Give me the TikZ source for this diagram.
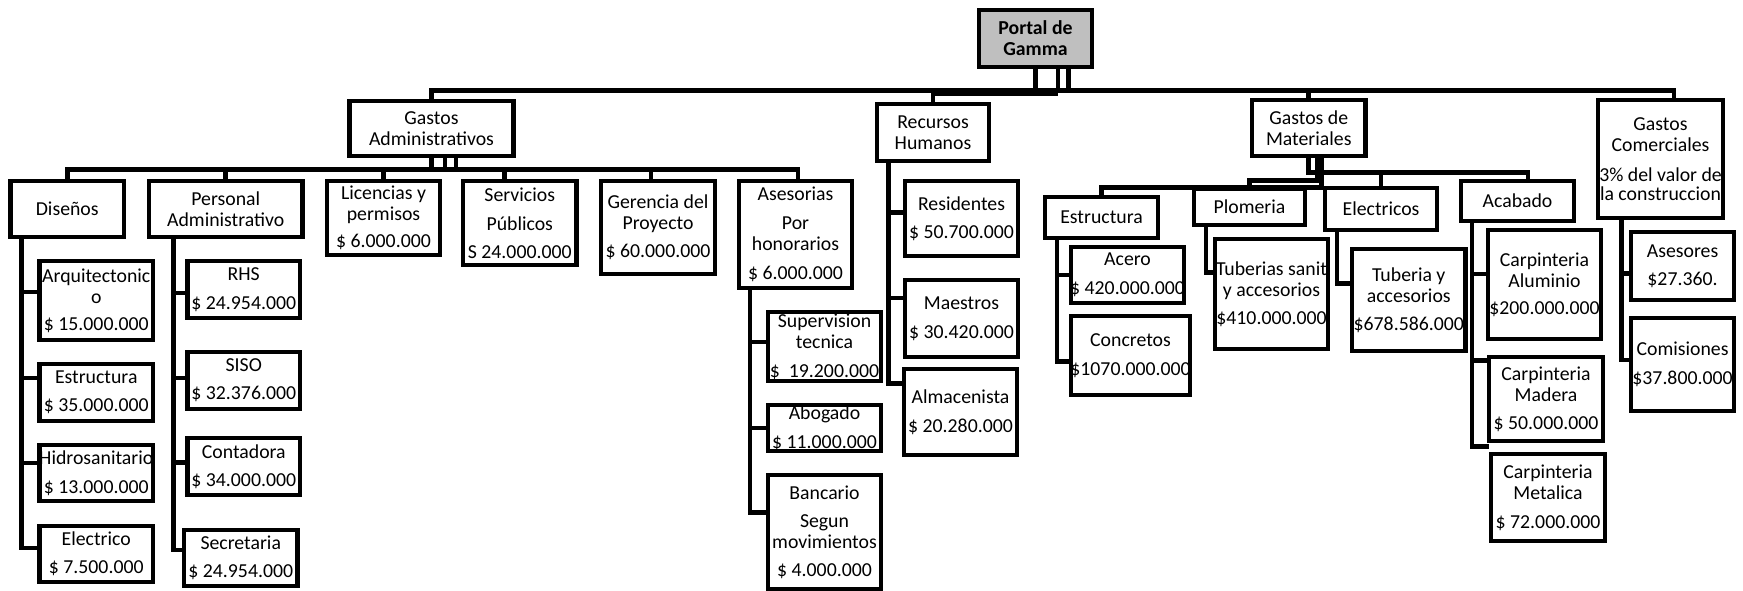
\documentclass[tikz,border=0pt]{standalone}
\usepackage{fontspec}
\setmainfont{Carlito}
\usetikzlibrary{calc}

\tikzset{
  orgbox/.style={draw, line width=2pt, inner sep=0pt},
  orgtext/.style={inner sep=0pt, align=center,
    font=\fontsize{8.9pt}{9.45pt}\selectfont},
  wire/.style={line width=2.2pt},
}

% \orgnode[box options]{name}{x1}{y1}{x2}{y2}{text}
% corners are given in picture units; the text is centred in the box
\newcommand\orgnode[7][]{%
  \node[orgbox,#1,minimum width={(#5-#3)*0.45pt},minimum height={(#6-#4)*0.45pt}]
    (#2) at ({(#3+#5)/2},{(#4+#6)/2}) {};
  \node[orgtext] (#2-t) at (#2.center) {#7};}

\begin{document}
\begin{tikzpicture}[x=0.45pt,y=-0.45pt]
\useasboundingbox (0,0) rectangle (1743,591);

% ---------- top level ----------
\orgnode[fill=black!25]{root}{979}{10}{1092}{67}{{\bfseries Portal de}\\{\bfseries Gamma}}
\orgnode{adm}{349.5}{101}{513.5}{156}{Gastos\\Administrativos}
\orgnode{rh}{877}{104}{989}{161}{Recursos\\Humanos}
\orgnode{mat}{1252}{100}{1365.5}{156}{Gastos de\\Materiales}
\orgnode{com}{1598}{100}{1723}{218}{Gastos\\Comerciales\\[4pt]3\% del valor de\\[-0.9pt]la construccion}

% ---------- gastos administrativos ----------
\orgnode{dis}{10.5}{181}{124}{237}{Diseños}
\orgnode{per}{149}{181}{302.5}{237}{Personal\\Administrativo}
\orgnode{lic}{327}{181}{440}{255}{Licencias y\\permisos\\[2.7pt]\$ 6.000.000}
\orgnode{ser}{463}{181}{576.5}{265}{Servicios\\[3.6pt]Públicos\\[3.2pt]S 24.000.000}
\orgnode{ger}{601}{181}{715}{274}{Gerencia del\\Proyecto\\[3.2pt]\$ 60.000.000}
\orgnode{ase}{739}{181}{852}{288}{Asesorias\\[3.6pt]Por\\honorarios\\[3.6pt]\$ 6.000.000}

\orgnode{arq}{39.5}{261}{153}{340}{Arquitectonic\\o\\[2.7pt]\$ 15.000.000}
\orgnode{est1}{39.5}{364}{153}{421}{Estructura\\[3.2pt]\$ 35.000.000}
\orgnode{hid}{39.5}{445}{153}{501}{Hidrosanitario\\[3.6pt]\$ 13.000.000}
\orgnode{ele1}{39.5}{526}{153}{582}{Electrico\\[3.2pt]\$ 7.500.000}

\orgnode{rhs}{187.5}{261}{300}{318}{RHS\\[3.6pt]\$ 24.954.000}
\orgnode{siso}{187.5}{352}{300}{409}{SISO\\[3.2pt]\$ 32.376.000}
\orgnode{cont}{187.5}{438}{300}{495}{Contadora\\[3.2pt]\$ 34.000.000}
\orgnode{sec}{184}{530}{297.5}{586}{Secretaria\\[3.2pt]\$ 24.954.000}

\orgnode{sup}{768}{312}{881}{381}{Supervision\\tecnica\\[3.6pt]\$\ \ 19.200.000}
\orgnode{abo}{768}{405}{881}{451}{Abogado\\[3.6pt]\$ 11.000.000}
\orgnode{ban}{768}{475}{881}{589}{Bancario\\[3.2pt]Segun\\movimientos\\[3.2pt]\$ 4.000.000}

% ---------- recursos humanos ----------
\orgnode{res}{905}{181}{1018}{256}{Residentes\\[3.2pt]\$ 50.700.000}
\orgnode{mae}{905}{280}{1018}{357}{Maestros\\[3.6pt]\$ 30.420.000}
\orgnode{alm}{904}{369}{1017}{455}{Almacenista\\[3.6pt]\$ 20.280.000}

% ---------- gastos de materiales ----------
\orgnode{estm}{1045}{197}{1158}{238}{Estructura}
\orgnode{plo}{1194}{189}{1305}{225}{Plomeria}
\orgnode{elc}{1325}{188}{1437}{230}{Electricos}
\orgnode{aca}{1461}{181}{1574}{221}{Acabado}

\orgnode{ace}{1071}{247}{1184}{303}{Acero\\[3.6pt]\$ 420.000.000}
\orgnode{con}{1071}{316}{1190}{395}{Concretos\\[3.6pt]\$1070.000.000}
\orgnode{tub}{1215}{239}{1328}{349}{Tuberias sanit\\y accesorios\\[3.2pt]\$410.000.000}
\orgnode{tuy}{1352}{249}{1465.5}{351}{Tuberia y\\accesorios\\[3.2pt]\$678.586.000}
\orgnode{alu}{1488}{230}{1601}{339}{Carpinteria\\Aluminio\\[2.7pt]\$200.000.000}
\orgnode{mad}{1489}{357}{1603}{441}{Carpinteria\\Madera\\[3.2pt]\$ 50.000.000}
\orgnode{met}{1491}{454}{1605}{541}{Carpinteria\\Metalica\\[3.6pt]\$ 72.000.000}

% ---------- gastos comerciales ----------
\orgnode{asr}{1631}{232}{1734}{300}{Asesores\\[3.2pt]\$27.360.}
\orgnode{coms}{1631}{318}{1734}{411}{Comisiones\\[3.6pt]\$37.800.000}

% ---------- main bus ----------
\coordinate (tbus) at ($(root.south)+(0,21)$);
\coordinate (r2) at ($(root.south)+(22.5,0)$);
\coordinate (r3) at ($(root.south)+(33,0)$);
\coordinate (comj) at ($(com.north)+(13.5,0)$);
\draw[wire] (adm.north) -- (adm.north |- tbus) -- (comj |- tbus) -- (comj);
\draw[wire] (rh.north) -- (rh.north |- tbus);
\draw[wire] (mat.north) -- (mat.north |- tbus);
\draw[wire] (root.south) -- (root.south |- tbus);
\draw[wire] (r2) -- (r2 |- tbus);
\draw[wire] (r3) -- (r3 |- tbus);
\draw[wire] ($(rh.north |- tbus)+(0,3.5)$) -- ($(r2 |- tbus)+(0,3.5)$);

% ---------- administrative bus ----------
\coordinate (abus) at ($(adm.south)+(0,11)$);
\coordinate (a2) at ($(adm.south)+(13.5,0)$);
\coordinate (a3) at ($(adm.south)+(24.5,0)$);
\coordinate (serj) at ($(ser.north)+(-15,0)$);
\coordinate (gerj) at ($(ger.north)+(-7,0)$);
\coordinate (asej) at ($(ase.north)+(2.5,0)$);
\draw[wire] (dis.north) -- (dis.north |- abus) -- (asej |- abus) -- (asej);
\draw[wire] (per.north) -- (per.north |- abus);
\draw[wire] (lic.north) -- (lic.north |- abus);
\draw[wire] (serj) -- (serj |- abus);
\draw[wire] (gerj) -- (gerj |- abus);
\draw[wire] (adm.south) -- (abus);
\draw[wire] (a2) -- (a2 |- abus);
\draw[wire] (a3) -- (a3 |- abus);

% ---------- materials buses ----------
\coordinate (mbA) at ($(mat.south)+(0,14)$);
\coordinate (mbB) at ($(mat.south)+(0,22)$);
\coordinate (mbC) at ($(mat.south)+(0,29)$);
\coordinate (m2) at ($(mat.south)+(9,0)$);
\coordinate (m3) at ($(mat.south)+(13,0)$);
\coordinate (acaj) at ($(aca.north)+(10.5,0)$);
\draw[wire] (mat.south) -- (mat.south |- mbA) -- (acaj |- mbA) -- (acaj);
\draw[wire] (elc.north |- mbA) -- (elc.north);
\draw[wire] (m2) -- (m2 |- mbB) -- (plo.north |- mbB) -- (plo.north);
\draw[wire] (m3) -- (m3 |- mbC) -- (estm.north |- mbC) -- (estm.north);

% ---------- side spines ----------
\coordinate (sdis) at ($(dis.south west)+(13.2,0)$);
\draw[wire] (sdis) |- ([yshift=3.8pt]arq.west);
\draw[wire] (sdis) |- ([yshift=6.5pt]est1.west);
\draw[wire] (sdis) |- ([yshift=4.5pt]hid.west);
\draw[wire] (sdis) |- ([yshift=2.7pt]ele1.west);

\coordinate (sper) at ($(per.south west)+(26.7,0)$);
\draw[wire] (sper) |- ([yshift=-1.6pt]rhs.west);
\draw[wire] (sper) |- ([yshift=1.1pt]siso.west);
\draw[wire] (sper) |- ([yshift=1.6pt]cont.west);
\draw[wire] (sper) |- ([yshift=3.6pt]sec.west);

\coordinate (sase) at ($(ase.south west)+(13.2,0)$);
\draw[wire] (sase) |- ([yshift=2pt]sup.west);
\draw[wire] (sase) |- (abo.west);
\draw[wire] (sase) |- ([yshift=8.6pt]ban.west);

\coordinate (srh) at ($(rh.south west)+(13.7,0)$);
\draw[wire] (srh) |- ([yshift=2.5pt]res.west);
\draw[wire] (srh) |- ([yshift=9.2pt]mae.west);
\draw[wire] (srh) |- ([yshift=13pt]alm.west);

\coordinate (sestm) at ($(estm.south west)+(14.2,0)$);
\draw[wire] (sestm) |- (ace.west);
\draw[wire] (sestm) |- ([yshift=-2.9pt]con.west);

\coordinate (splo) at ($(plo.south west)+(14.2,0)$);
\draw[wire] (splo) |- ([yshift=9.5pt]tub.west);

\coordinate (selc) at ($(elc.south west)+(14.2,0)$);
\draw[wire] (selc) |- ([yshift=7.6pt]tuy.west);

\coordinate (saca) at ($(aca.south west)+(13.2,0)$);
\draw[wire] (saca) |- ([yshift=4.7pt]alu.west);
\draw[wire] (saca) |- ([yshift=17.5pt]mad.west);
\draw[wire] (saca) |- ([yshift=2.2pt]met.north west);

\coordinate (scom) at ($(com.south west)+(25.7,0)$);
\draw[wire] (scom) |- ([yshift=-3.2pt]asr.west);
\draw[wire] (scom) |- ([yshift=2pt]coms.west);
\end{tikzpicture}
\end{document}
